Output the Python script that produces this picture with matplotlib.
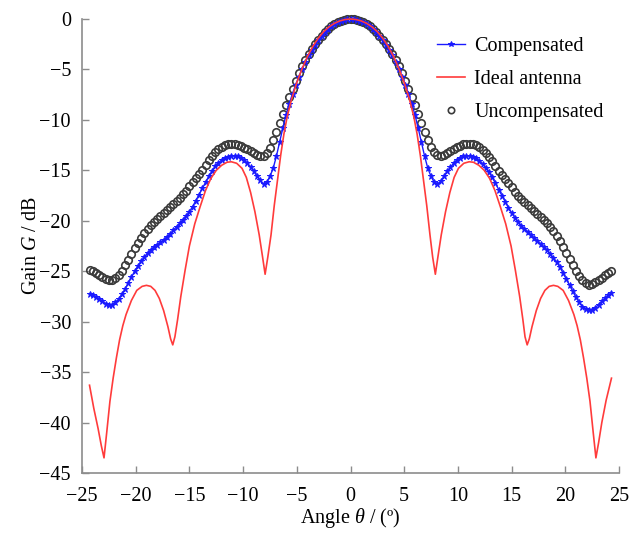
"""Antenna gain pattern: compensated vs uncompensated vs ideal antenna."""

import matplotlib
matplotlib.use("Agg")  # headless: render straight to file
import matplotlib.pyplot as plt
import numpy as np

plt.rcParams["font.family"] = ["Liberation Serif", "DejaVu Serif"]
plt.rcParams["mathtext.fontset"] = "custom"
plt.rcParams["mathtext.rm"] = "Liberation Serif"
plt.rcParams["mathtext.it"] = "Liberation Serif:italic"

# ---------------------------------------------------------------------- #
# Data (angle in deg, gain in dB)
# ---------------------------------------------------------------------- #
# marker series share one angle grid, 0.3 deg apart
angles = np.round(np.arange(-81, 82) * 0.3, 2)

uncompensated = [
    -24.9, -25.0, -25.2, -25.4, -25.6, -25.8, -25.9, -25.9, -25.7, -25.4,
    -25.0, -24.4, -23.9, -23.3, -22.7, -22.2, -21.7, -21.2, -20.8, -20.4,
    -20.1, -19.8, -19.5, -19.2, -18.9, -18.6, -18.3, -18.0, -17.7, -17.3,
    -17.0, -16.6, -16.2, -15.8, -15.4, -15.0, -14.5, -14.0, -13.6, -13.2,
    -12.9, -12.7, -12.5, -12.4, -12.35, -12.35, -12.45, -12.6, -12.75, -12.9,
    -13.1, -13.3, -13.5, -13.6, -13.55, -13.3, -12.8, -12.0, -11.2, -10.3,
    -9.4, -8.5, -7.7, -6.9, -6.1, -5.4, -4.7, -4.1, -3.5, -3.0,
    -2.5, -2.05, -1.65, -1.3, -1.0, -0.72, -0.5, -0.32, -0.18, -0.08,
    -0.02, 0.0,
    -0.02, -0.08, -0.18, -0.32, -0.5, -0.72, -1.0, -1.3, -1.65, -2.05,
    -2.5, -3.0, -3.5, -4.1, -4.7, -5.4, -6.1, -6.9, -7.7, -8.5,
    -9.4, -10.3, -11.2, -12.0, -12.7, -13.2, -13.5, -13.55, -13.45, -13.25,
    -13.05, -12.85, -12.7, -12.55, -12.4, -12.35, -12.35, -12.4, -12.5, -12.7,
    -12.95, -13.3, -13.7, -14.1, -14.6, -15.1, -15.5, -15.9, -16.3, -16.7,
    -17.1, -17.5, -17.8, -18.1, -18.4, -18.7, -19.0, -19.3, -19.6, -19.9,
    -20.2, -20.6, -21.0, -21.5, -22.0, -22.6, -23.2, -23.8, -24.4, -25.0,
    -25.5, -25.9, -26.2, -26.4, -26.3, -26.1, -25.9, -25.7, -25.4, -25.2,
    -25.0,
]

compensated = [
    -27.3, -27.4, -27.6, -27.8, -28.0, -28.2, -28.3, -28.3, -28.1, -27.8,
    -27.3, -26.8, -26.2, -25.6, -25.0, -24.5, -24.0, -23.6, -23.2, -22.9,
    -22.6, -22.4, -22.15, -21.9, -21.6, -21.3, -20.95, -20.6, -20.25, -19.9,
    -19.5, -19.1, -18.6, -18.0, -17.4, -16.8, -16.2, -15.6, -15.1, -14.6,
    -14.25, -14.0, -13.8, -13.65, -13.55, -13.55, -13.6, -13.75, -14.0, -14.3,
    -14.7, -15.1, -15.6, -16.0, -16.4, -16.2, -15.6, -14.8, -13.6, -12.2,
    -10.8, -9.5, -8.4, -7.4, -6.5, -5.7, -4.95, -4.3, -3.6, -3.05,
    -2.55, -2.1, -1.68, -1.32, -1.0, -0.73, -0.5, -0.32, -0.18, -0.08,
    -0.02, 0.0,
    -0.02, -0.08, -0.18, -0.32, -0.5, -0.73, -1.0, -1.32, -1.68, -2.1,
    -2.55, -3.05, -3.6, -4.3, -4.95, -5.7, -6.5, -7.4, -8.4, -9.5,
    -10.8, -12.2, -13.6, -14.8, -15.6, -16.2, -16.35, -16.1, -15.6, -15.1,
    -14.7, -14.3, -14.0, -13.75, -13.6, -13.55, -13.55, -13.65, -13.8, -14.05,
    -14.35, -14.75, -15.2, -15.7, -16.3, -16.9, -17.5, -18.1, -18.7, -19.2,
    -19.7, -20.1, -20.5, -20.8, -21.1, -21.4, -21.7, -22.0, -22.3, -22.6,
    -22.9, -23.3, -23.7, -24.1, -24.6, -25.2, -25.8, -26.4, -27.0, -27.6,
    -28.1, -28.5, -28.7, -28.8, -28.8, -28.6, -28.3, -28.0, -27.7, -27.4,
    -27.2,
]

# ideal antenna is a plain line, sampled more densely around the nulls
ideal_angles = [
    -24.3, -23.9, -23.5, -23.2, -22.95, -22.7, -22.4, -22.1, -21.8, -21.5,
    -21.2, -20.9, -20.4, -19.9, -19.4, -19.0, -18.6, -18.2, -17.8, -17.4,
    -17.0, -16.75, -16.55, -16.35, -16.1, -15.8, -15.4, -15.0, -14.5, -14.0,
    -13.5, -13.0, -12.5, -12.0, -11.5, -11.1, -10.6, -10.1, -9.7, -9.3,
    -8.9, -8.5, -8.2, -7.95, -7.7, -7.4, -7.1, -6.8, -6.5, -6.2,
    -5.9, -5.5, -5.0, -4.5, -4.0, -3.5, -3.0, -2.5, -2.0, -1.5,
    -1.0, -0.5, 0.0,
    0.5, 1.0, 1.5, 2.0, 2.5, 3.0, 3.5, 4.0, 4.5, 5.0,
    5.5, 5.9, 6.2, 6.5, 6.8, 7.1, 7.4, 7.65, 7.9, 8.15,
    8.45, 8.85, 9.25, 9.65, 10.05, 10.55, 11.05, 11.45, 11.95, 12.45,
    12.95, 13.45, 13.95, 14.45, 14.95, 15.35, 15.75, 16.05, 16.25, 16.45,
    16.65, 16.9, 17.3, 17.7, 18.1, 18.5, 18.9, 19.3, 19.8, 20.3,
    20.8, 21.1, 21.4, 21.7, 22.0, 22.3, 22.6, 22.85, 23.1, 23.4,
    23.8, 24.3,
]
ideal = [
    -36.3, -38.6, -40.6, -42.3, -43.5, -41.0, -37.9, -35.6, -33.6, -31.8,
    -30.4, -29.3, -27.9, -26.9, -26.5, -26.4, -26.5, -26.9, -27.7, -28.9,
    -30.5, -31.7, -32.3, -31.5, -29.8, -27.5, -24.9, -22.5, -20.3, -18.6,
    -17.0, -15.8, -15.0, -14.5, -14.2, -14.15, -14.3, -14.8, -15.7, -17.2,
    -19.1, -21.4, -23.5, -25.3, -23.6, -21.4, -18.5, -16.0, -13.5, -11.4,
    -9.7, -8.0, -6.3, -4.9, -3.7, -2.7, -1.9, -1.25, -0.78, -0.43,
    -0.19, -0.05, 0.0,
    -0.05, -0.19, -0.43, -0.78, -1.25, -1.9, -2.7, -3.7, -4.9, -6.3,
    -8.0, -9.7, -11.4, -13.5, -16.0, -18.5, -21.4, -23.6, -25.3, -23.5,
    -21.4, -19.1, -17.2, -15.7, -14.8, -14.3, -14.15, -14.2, -14.5, -15.0,
    -15.8, -17.0, -18.6, -20.3, -22.5, -24.9, -27.5, -29.8, -31.5, -32.3,
    -31.7, -30.5, -28.9, -27.7, -26.9, -26.5, -26.4, -26.5, -26.9, -27.9,
    -29.3, -30.4, -31.8, -33.6, -35.6, -37.9, -41.0, -43.5, -42.0, -40.0,
    -37.8, -35.6,
]

x_ticks = [-25, -20, -15, -10, -5, 0, 5, 10, 15, 20, 25]
y_ticks = [0, -5, -10, -15, -20, -25, -30, -35, -40, -45]

# ---------------------------------------------------------------------- #
# Figure
# ---------------------------------------------------------------------- #
fig = plt.figure(figsize=(6.32, 5.37), dpi=100)
ax = fig.add_axes([82 / 632, 1 - 473 / 537, 537 / 632, 454 / 537])

ax.plot(angles, compensated, color="#1a1aff", lw=1.0, marker="*",
        markersize=4.8, markeredgewidth=0.7, label="Compensated",
        clip_on=False, zorder=3)
ax.plot(ideal_angles, ideal, color="#ff3b3b", lw=1.2, label="Ideal antenna",
        clip_on=False, zorder=4)
ax.plot(angles, uncompensated, linestyle="none", marker="o", markersize=5.4,
        markerfacecolor="none", markeredgecolor="#3a3a3a",
        markeredgewidth=1.2, label="Uncompensated", clip_on=False, zorder=2)

ax.set_xlim(-25, 25)
ax.set_ylim(-45, 0)
ax.set_xticks(x_ticks)
ax.set_yticks(y_ticks)
ax.tick_params(direction="in", length=5, width=1, color="#8c8c8c",
               labelsize=14.5)
ax.tick_params(axis="x", pad=10)
ax.tick_params(axis="y", pad=8)

for side in ("top", "right"):
    ax.spines[side].set_visible(False)
for side in ("left", "bottom"):
    ax.spines[side].set_color("#8c8c8c")
    ax.spines[side].set_linewidth(1.2)

ax.set_xlabel(r"Angle $\theta$ / (º)", fontsize=14.5, labelpad=0)
ax.set_ylabel(r"Gain $G$ / dB", fontsize=14.5, labelpad=-1)

ax.legend(loc="upper left", bbox_to_anchor=(0.642, 0.982), frameon=False,
          fontsize=14.5, handlelength=1.4, handletextpad=0.45,
          labelspacing=0.68, borderpad=0, markerscale=0.85)

fig.savefig("out.png", dpi=100)
